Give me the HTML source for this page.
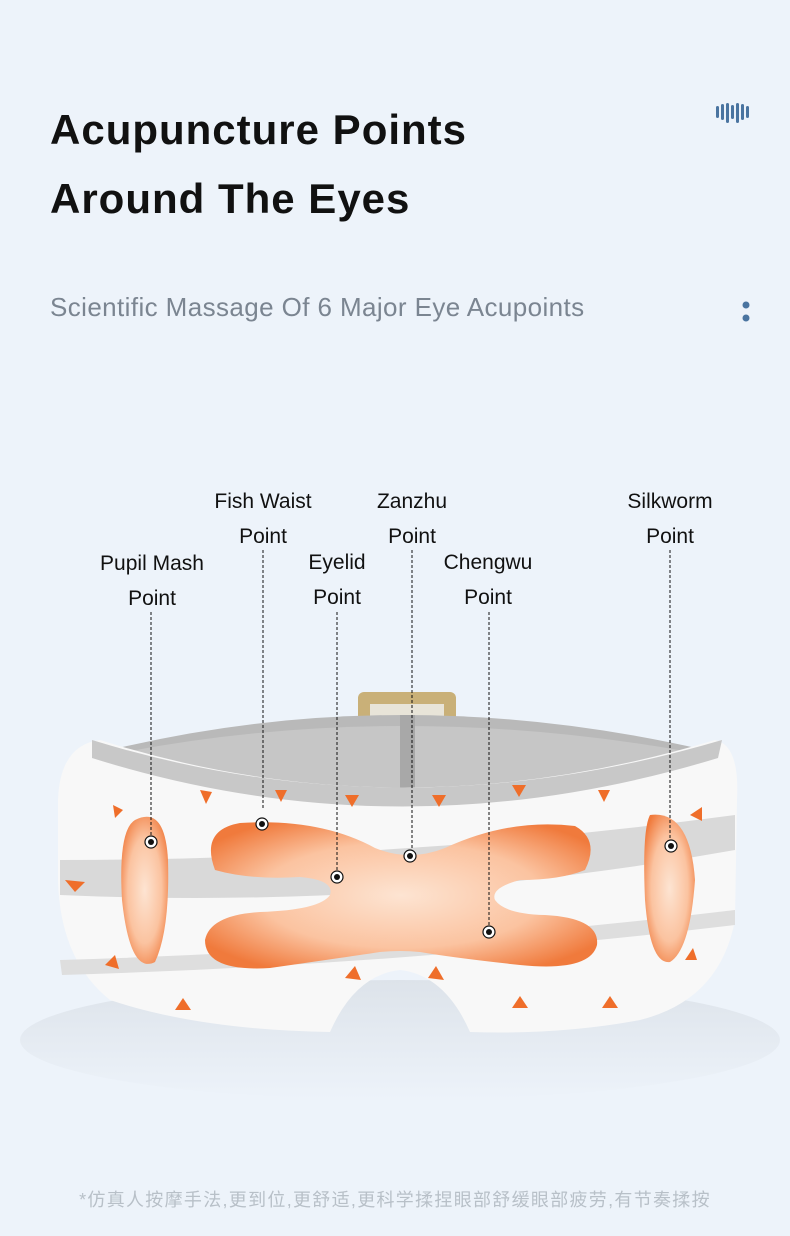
<!DOCTYPE html>
<html><head><meta charset="utf-8"><style>
body{margin:0;width:790px;height:1236px;background:#edf3fa;overflow:hidden;font-family:"Liberation Sans",sans-serif;}
.t{position:absolute;left:50px;font-weight:bold;font-size:42px;color:#111;letter-spacing:1px}
.l{position:absolute;font-size:21px;color:#111;text-align:center;line-height:35px;width:160px}
</style></head><body>
<div class="t" style="top:106px">Acupuncture Points</div>
<div class="t" style="top:175px">Around The Eyes</div>
<div style="position:absolute;left:50px;top:292px;font-size:26px;color:#7b8591;letter-spacing:0.4px">Scientific Massage Of 6 Major Eye Acupoints</div>
<svg width="790" height="1236" style="position:absolute;left:0;top:0">
<g fill="#4a74a0">
<rect x="716" y="106" width="3" height="12" rx="1.5"/><rect x="721" y="104" width="3" height="16" rx="1.5"/><rect x="726" y="103" width="3" height="20" rx="1.5"/><rect x="731" y="105" width="3" height="14" rx="1.5"/><rect x="736" y="103" width="3" height="20" rx="1.5"/><rect x="741" y="104" width="3" height="16" rx="1.5"/><rect x="746" y="106" width="3" height="12" rx="1.5"/>
<circle cx="746" cy="305" r="3.5"/><circle cx="746" cy="318" r="3.5"/></g>
<defs><radialGradient id="o" cx="50%" cy="50%" r="60%"><stop offset="0" stop-color="#fde4d2"/><stop offset="0.6" stop-color="#fbc3a0"/><stop offset="1" stop-color="#f07a3c"/></radialGradient>
<linearGradient id="sh" x1="0" y1="0" x2="0" y2="1"><stop offset="0" stop-color="#dde3ea"/><stop offset="1" stop-color="#edf3fa"/></linearGradient></defs>
<ellipse cx="400" cy="1040" rx="380" ry="60" fill="url(#sh)"/>
<rect x="358" y="692" width="98" height="40" rx="6" fill="#c9b078"/>
<rect x="370" y="704" width="74" height="30" fill="#e8e4d8"/>
<path d="M110 750 Q400 680 705 750 L705 760 Q400 840 110 760Z" fill="#b9b9b9"/>
<path d="M125 752 Q400 700 690 752 Q400 830 125 760Z" fill="#c6c6c6"/>
<rect x="400" y="715" width="15" height="80" fill="#a8a8a8"/>
<path d="M58 800 Q60 745 100 740 Q400 835 715 740 Q740 745 737 800 L735 920 Q720 1000 640 1020 Q560 1035 470 1032 Q445 975 400 970 Q355 975 330 1032 Q200 1030 110 1000 Q60 960 58 880Z" fill="#f8f8f8"/>
<path d="M92 740 Q400 835 722 740 L718 758 Q400 855 92 758Z" fill="#c8c8c8"/>
<path d="M60 860 Q400 860 735 815 L735 850 Q400 910 60 895Z" fill="#d9d9d9"/>
<path d="M60 960 Q400 950 735 910 L735 925 Q400 965 62 975Z" fill="#dedede"/>
<path d="M135 820 Q165 805 168 860 Q170 930 155 962 Q130 975 122 900 Q118 830 135 820Z" fill="url(#o)"/>
<path d="M650 815 Q690 810 695 880 Q690 950 670 962 Q650 965 645 900 Q642 830 650 815Z" fill="url(#o)"/>
<path d="M240 823 Q320 818 375 848 Q410 862 445 848 Q510 818 575 826 Q600 840 585 870 Q560 880 520 880 Q490 888 495 900 Q505 914 545 915 Q600 918 597 945 Q590 972 520 965 Q455 958 420 952 Q400 950 380 952 Q340 958 270 968 Q205 972 205 940 Q210 915 260 912 Q320 910 330 895 Q335 880 300 877 Q250 880 215 870 Q200 830 240 823Z" fill="url(#o)"/>
<g fill="#ef6e2a">
<path d="M113 805l10 5-8 8z"/><path d="M200 790l12 2-6 12z"/><path d="M275 790l12 0-6 12z"/><path d="M345 795l14 0-7 12z"/><path d="M432 795l14 0-7 12z"/><path d="M512 785l14 0-7 12z"/><path d="M598 790l12 0-6 12z"/><path d="M690 815l12-8 0 14z"/>
<path d="M65 880l20 2-10 10z"/><path d="M105 965l10-10 4 14z"/><path d="M175 1010l8-12 8 12z"/><path d="M345 978l10-12 6 14z"/><path d="M428 978l8-12 8 14z"/><path d="M512 1008l8-12 8 12z"/><path d="M602 1008l8-12 8 12z"/><path d="M685 960l12 0-4-12z"/>
</g>
<g stroke="#111" stroke-width="1" stroke-dasharray="3,2" fill="none">
<line x1="151" y1="612" x2="151" y2="836"/><line x1="263" y1="550" x2="263" y2="808"/><line x1="337" y1="612" x2="337" y2="872"/><line x1="412" y1="550" x2="412" y2="850"/><line x1="489" y1="612" x2="489" y2="926"/><line x1="670" y1="550" x2="670" y2="840"/>
</g>
<g fill="#fff" stroke="#111" stroke-width="1.2">
<circle cx="151" cy="842" r="6"/><circle cx="262" cy="824" r="6"/><circle cx="337" cy="877" r="6"/><circle cx="410" cy="856" r="6"/><circle cx="489" cy="932" r="6"/><circle cx="671" cy="846" r="6"/></g>
<g fill="#111"><circle cx="151" cy="842" r="3"/><circle cx="262" cy="824" r="3"/><circle cx="337" cy="877" r="3"/><circle cx="410" cy="856" r="3"/><circle cx="489" cy="932" r="3"/><circle cx="671" cy="846" r="3"/></g>
</svg>
<div class="l" style="left:72px;top:546px">Pupil Mash<br>Point</div>
<div class="l" style="left:183px;top:484px">Fish Waist<br>Point</div>
<div class="l" style="left:257px;top:545px">Eyelid<br>Point</div>
<div class="l" style="left:332px;top:484px">Zanzhu<br>Point</div>
<div class="l" style="left:408px;top:545px">Chengwu<br>Point</div>
<div class="l" style="left:590px;top:484px">Silkworm<br>Point</div>
<div style="position:absolute;left:0;width:790px;top:1186px;text-align:center;font-size:18px;letter-spacing:1.3px;color:#b8c0c8;font-family:'Liberation Sans','Noto Sans CJK SC',sans-serif">*仿真人按摩手法,更到位,更舒适,更科学揉捏眼部舒缓眼部疲劳,有节奏揉按</div>
</body></html>
